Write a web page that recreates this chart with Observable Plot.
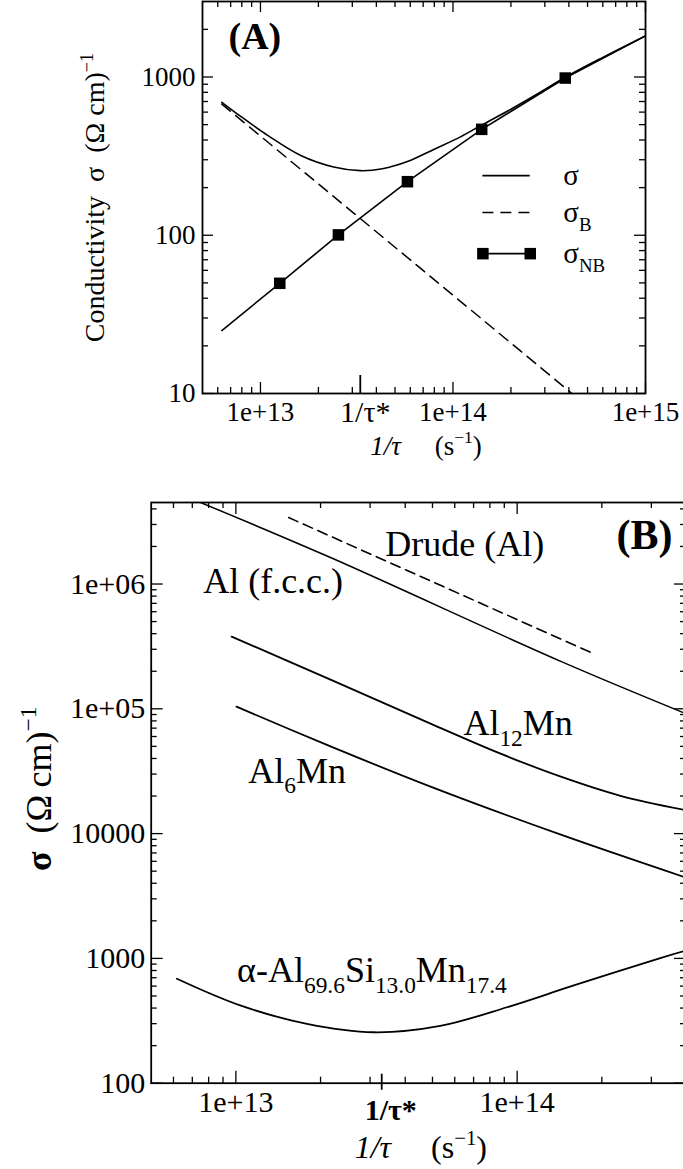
<!DOCTYPE html>
<html><head><meta charset="utf-8">
<script src="https://cdn.jsdelivr.net/npm/d3@7"></script>
<script src="https://cdn.jsdelivr.net/npm/@observablehq/plot@0.6"></script>
<style>
html,body{margin:0;padding:0;background:#fff;overflow:hidden;}
#chart svg{display:block;}
</style></head><body><div id="chart"></div>
<script>
// ================= DATA =================
// ---- Panel A : conductivity vs 1/tau ----
const xA_sigma   = [6.3e12, 8e12, 1.1e13, 1.63e13, 2.4e13, 3.3e13, 4.3e13, 5.8e13, 8e13, 1.1e14, 1.41e14, 2e14, 2.8e14, 3.83e14, 6e14, 1e15];
const yA_sigma   = [692, 557, 425, 318, 270, 256, 263, 292, 350, 420, 497, 626, 792, 996, 1330, 1820];
const xA_sigmaB  = [6.3e12, 4.15e14];
const yA_sigmaB  = [674, 10];
const xA_sigmaNB = [6.3e12, 1.26e13, 2.54e13, 5.8e13, 1.41e14, 3.83e14, 1e15];
const yA_sigmaNB = [25, 49.7, 100.5, 218, 467, 985, 1820];
const xA_squares = [1.26e13, 2.54e13, 5.8e13, 1.41e14, 3.83e14];
const yA_squares = [49.7, 100.5, 218, 467, 985];
const seriesNamesA = ["σ", "σ_{B}", "σ_{NB}"];

// ---- Panel B ----
const xB_fcc   = [7.49e12, 2.17e13, 1.43e14, 3.9e14];
const yB_fcc   = [4.5e6, 1.63e6, 2.4e5, 9.32e4];
const xB_drude = [1.54e13, 1.82e14];
const yB_drude = [3.41e6, 2.84e5];
const xB_al12  = [9.66e12, 2.17e13, 4.92e13, 8.73e13, 1.43e14, 2.33e14, 3.9e14];
const yB_al12  = [3.79e5, 1.715e5, 7.61e4, 4.37e4, 2.86e4, 2.01e4, 1.555e4];
const xB_al6   = [1.005e13, 2.17e13, 4.92e13, 1.43e14, 3.9e14];
const yB_al6   = [1.04e5, 5.0e4, 2.38e4, 9.8e3, 4.51e3];
const xB_alpha = [6.17e12, 1.036e13, 1.79e13, 3.09e13, 5.33e13, 9.2e13, 1.59e14, 3.27e14, 3.9e14];
const yB_alpha = [687, 420, 299, 256, 288, 406, 607, 1014, 1140];
const seriesNamesB = ["Al (f.c.c.)", "Drude (Al)", "Al_{12}Mn", "Al_{6}Mn", "α-Al_{69.6}Si_{13.0}Mn_{17.4}"];

// ---- Tick values / labels ----
const tauStar = 3.3e13;
const tauStarLabel = "1/τ*";
const xMajorA = [1e13, 1e14, 1e15];
const xMajorLabelsA = ["1e+13", "1e+14", "1e+15"];
const yMajorA = [10, 100, 1000];
const yMajorLabelsA = ["10", "100", "1000"];
const xMajorB = [1e13, 1e14];
const xMajorLabelsB = ["1e+13", "1e+14"];
const yMajorB = [100, 1000, 10000, 1e5, 1e6];
const yMajorLabelsB = ["100", "1000", "10000", "1e+05", "1e+06"];

// ================= LAYOUT / STYLE =================
const FONT = "'Liberation Serif', 'Times New Roman', Times, serif";
const W = 683;
const LA = {height: 470, mt: 1, mb: 77, ml: 202, mr: 38, xd: [5e12, 1e15], yd: [10, 3000]};
const LB = {height: 699, mt: 32, mb: 86.3, ml: 150.7, mr: -3, xd: [5e12, 4e14], yd: [100, 4.5e6]};

const zipXY = (xs, ys) => xs.map((x, i) => ({x, y: ys[i]}));
function minorTicks([lo, hi]) {
  const out = [];
  for (let e = Math.floor(Math.log10(lo)); e <= Math.ceil(Math.log10(hi)); e++)
    for (let m = 2; m <= 9; m++) { const v = m * 10 ** e; if (v > lo * 1.0001 && v < hi * 0.9999) out.push(v); }
  return out;
}
function frameTicks(L, xMajor, yMajor, maj, min, sw) {
  const fw = W - L.ml - L.mr, fh = L.height - L.mt - L.mb;
  const xMinor = minorTicks(L.xd), yMinor = minorTicks(L.yd);
  const m = [];
  for (const [t, len] of [[xMajor, maj], [xMinor, min]]) {
    m.push(Plot.ruleX(t, {x: d => d, insetTop: fh - len, strokeWidth: sw}));
    m.push(Plot.ruleX(t, {x: d => d, insetBottom: fh - len, strokeWidth: sw}));
  }
  for (const [t, len] of [[yMajor, maj], [yMinor, min]]) {
    m.push(Plot.ruleY(t, {y: d => d, insetRight: fw - len, strokeWidth: sw}));
    m.push(Plot.ruleY(t, {y: d => d, insetLeft: fw - len, strokeWidth: sw}));
  }
  return m;
}
function richText(root) {
  root.querySelectorAll("text").forEach(el => {
    const s = el.textContent;
    if (!/[_^*!]\{/.test(s)) return;
    const fs = parseFloat(getComputedStyle(el).fontSize) || 20;
    const segs = []; const re = /([_^*!])\{([^}]*)\}/g; let last = 0, m;
    while ((m = re.exec(s))) {
      if (m.index > last) segs.push({t: s.slice(last, m.index), k: ""});
      segs.push({t: m[2], k: m[1]}); last = re.lastIndex;
    }
    if (last < s.length) segs.push({t: s.slice(last), k: ""});
    el.textContent = "";
    let shift = 0;
    for (const g of segs) {
      const ts = document.createElementNS("http://www.w3.org/2000/svg", "tspan");
      const target = g.k === "_" ? 0.3 * fs : g.k === "^" ? -0.42 * fs : 0;
      if (target !== shift) ts.setAttribute("dy", target - shift);
      shift = target;
      if (g.k === "_" || g.k === "^") ts.setAttribute("font-size", 0.65 * fs);
      if (g.k === "*") ts.setAttribute("font-style", "italic");
      if (g.k === "!") ts.setAttribute("font-weight", "bold");
      ts.textContent = g.t;
      el.appendChild(ts);
    }
  });
}
const NB = "\u00a0";

// ================= PANEL A =================
const legendX1 = 1.43e14, legendX2 = 2.52e14, legendTextX = 3.74e14;
const legendY = [238, 139, 76.5];
const plotA = Plot.plot({
  width: W, height: LA.height,
  marginTop: LA.mt, marginBottom: LA.mb, marginLeft: LA.ml, marginRight: LA.mr,
  style: {fontFamily: FONT, background: "#fff"},
  x: {type: "log", domain: LA.xd, axis: null},
  y: {type: "log", domain: LA.yd, axis: null},
  marks: [
    ...frameTicks(LA, xMajorA, yMajorA, 11, 6, 1.3),
    Plot.ruleX([tauStar], {x: d => d, insetTop: (LA.height - LA.mt - LA.mb) - 18, strokeWidth: 1.8}),
    Plot.frame({strokeWidth: 1.8}),
    Plot.line(zipXY(xA_sigmaB, yA_sigmaB), {x: "x", y: "y", strokeWidth: 1.5, strokeDasharray: "11,7", clip: true}),
    Plot.line(zipXY(xA_sigmaNB, yA_sigmaNB), {x: "x", y: "y", strokeWidth: 1.6, clip: true}),
    Plot.line(zipXY(xA_sigma, yA_sigma), {x: "x", y: "y", strokeWidth: 1.6, curve: "catmull-rom", clip: true}),
    Plot.dot(zipXY(xA_squares, yA_squares), {x: "x", y: "y", symbol: "square", r: 6.5, fill: "black", stroke: "none"}),
    // legend
    Plot.ruleY([legendY[0]], {y: d => d, x1: legendX1, x2: legendX2, strokeWidth: 1.6}),
    Plot.ruleY([legendY[1]], {y: d => d, x1: legendX1, x2: legendX2, strokeWidth: 1.5, strokeDasharray: "11,7"}),
    Plot.ruleY([legendY[2]], {y: d => d, x1: legendX1, x2: legendX2, strokeWidth: 1.6}),
    Plot.dot([legendX1, legendX2], {x: d => d, y: legendY[2], symbol: "square", r: 6.5, fill: "black", stroke: "none"}),
    Plot.text(seriesNamesA, {x: legendTextX, y: (d, i) => legendY[i], text: d => d, textAnchor: "start", lineAnchor: "middle", fontSize: 29, fontFamily: FONT}),
    // tick labels
    Plot.text(xMajorA, {x: d => d, text: (d, i) => xMajorLabelsA[i], frameAnchor: "bottom", dy: 27, textAnchor: "middle", lineAnchor: "bottom", fontSize: 27, fontFamily: FONT}),
    Plot.text([tauStar], {x: d => d, text: [tauStarLabel], frameAnchor: "bottom", dy: 28, dx: 5, textAnchor: "middle", lineAnchor: "bottom", fontSize: 30, fontFamily: FONT}),
    Plot.text(yMajorA, {y: d => d, text: (d, i) => yMajorLabelsA[i], frameAnchor: "left", dx: -7, textAnchor: "end", lineAnchor: "middle", fontSize: 27, fontFamily: FONT}),
    // axis titles
    Plot.text(["*{1/τ}" + NB.repeat(5) + "(s^{−1})"], {frameAnchor: "bottom", dy: 61, dx: 2, textAnchor: "middle", lineAnchor: "bottom", text: d => d, fontSize: 27, fontFamily: FONT}),
    Plot.text(["Conductivity" + NB + NB + "σ" + NB + NB + "(Ω" + NB + "cm)^{−1}"], {frameAnchor: "left", dx: -107, rotate: -90, text: d => d, textAnchor: "middle", lineAnchor: "middle", fontSize: 28, fontFamily: FONT}),
    Plot.text(["(A)"], {frameAnchor: "top-left", dx: 26, dy: 47, text: d => d, textAnchor: "start", lineAnchor: "bottom", fontSize: 38, fontWeight: "bold", fontFamily: FONT})
  ]
});

// ================= PANEL B =================
const labelPosB = [
  {x: 7.65e12, y: 8.55e5},
  {x: 3.4e13, y: 1.69e6},
  {x: 6.44e13, y: 6.2e4},
  {x: 1.106e13, y: 2.56e4},
  {x: 1.01e13, y: 643}
];
const fhB = LB.height - LB.mt - LB.mb;
const plotB = Plot.plot({
  width: W, height: LB.height,
  marginTop: LB.mt, marginBottom: LB.mb, marginLeft: LB.ml, marginRight: LB.mr,
  style: {fontFamily: FONT, background: "#fff"},
  x: {type: "log", domain: LB.xd, axis: null},
  y: {type: "log", domain: LB.yd, axis: null},
  marks: [
    ...frameTicks(LB, xMajorB, yMajorB, 12, 6, 1.3),
    Plot.ruleX([tauStar], {x: d => d, insetTop: fhB - 9, insetBottom: -7, strokeWidth: 1.8}),
    Plot.frame({strokeWidth: 1.8}),
    Plot.line(zipXY(xB_fcc, yB_fcc), {x: "x", y: "y", strokeWidth: 1.5, curve: "catmull-rom", clip: true}),
    Plot.line(zipXY(xB_drude, yB_drude), {x: "x", y: "y", strokeWidth: 1.6, strokeDasharray: "10,6", clip: true}),
    Plot.line(zipXY(xB_al12, yB_al12), {x: "x", y: "y", strokeWidth: 1.8, curve: "catmull-rom", clip: true}),
    Plot.line(zipXY(xB_al6, yB_al6), {x: "x", y: "y", strokeWidth: 1.8, curve: "catmull-rom", clip: true}),
    Plot.line(zipXY(xB_alpha, yB_alpha), {x: "x", y: "y", strokeWidth: 1.8, curve: "catmull-rom", clip: true}),
    Plot.text(seriesNamesB, {x: (d, i) => labelPosB[i].x, y: (d, i) => labelPosB[i].y, text: d => d, textAnchor: "start", lineAnchor: "bottom", fontSize: 36, fontFamily: FONT}),
    // tick labels
    Plot.text(xMajorB, {x: d => d, text: (d, i) => xMajorLabelsB[i], frameAnchor: "bottom", dy: 29, textAnchor: "middle", lineAnchor: "bottom", fontSize: 30, fontFamily: FONT}),
    Plot.text([tauStar], {x: d => d, text: [tauStarLabel], frameAnchor: "bottom", dy: 37, dx: 9, textAnchor: "middle", lineAnchor: "bottom", fontSize: 30, fontWeight: "bold", fontFamily: FONT}),
    Plot.text(yMajorB, {y: d => d, text: (d, i) => yMajorLabelsB[i], frameAnchor: "left", dx: -6, textAnchor: "end", lineAnchor: "middle", fontSize: 30, fontFamily: FONT}),
    // axis titles
    Plot.text(["*{1/τ}" + NB.repeat(5) + "(s^{−1})"], {frameAnchor: "bottom", dy: 75, dx: 2, textAnchor: "middle", lineAnchor: "bottom", text: d => d, fontSize: 32, fontFamily: FONT}),
    Plot.text(["!{σ}" + NB + NB + "(Ω\u2009cm)^{−1}"], {frameAnchor: "left", dx: -112, dy: -4, rotate: -90, text: d => d, textAnchor: "middle", lineAnchor: "middle", fontSize: 36, fontFamily: FONT}),
    Plot.text(["(B)"], {frameAnchor: "top-right", dx: -14, dy: 46, text: d => d, textAnchor: "end", lineAnchor: "bottom", fontSize: 42, fontWeight: "bold", fontFamily: FONT})
  ]
});

const chart = document.getElementById("chart");
chart.appendChild(plotA);
chart.appendChild(plotB);
richText(plotA);
richText(plotB);
</script></body></html>
